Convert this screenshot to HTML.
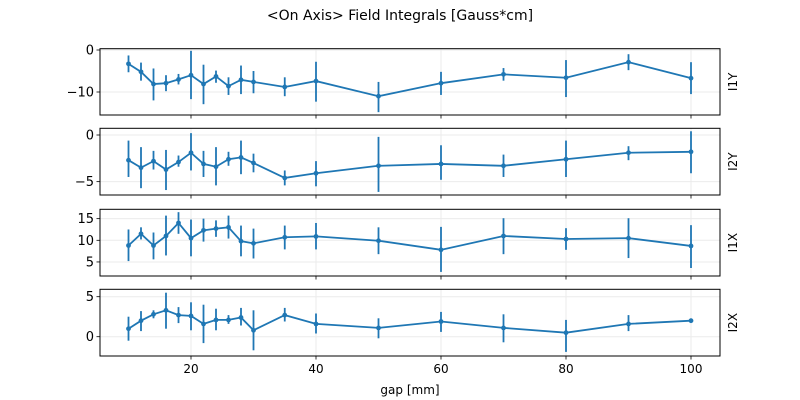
<!DOCTYPE html>
<html><head><meta charset="utf-8"><style>
body{margin:0;background:#fff;}
svg{display:block;font-family:"DejaVu Sans","Liberation Sans",sans-serif;}
</style></head><body>
<svg id="s" width="800" height="400" xmlns="http://www.w3.org/2000/svg">
<text x="400" y="20" font-size="14" text-anchor="middle">&lt;On Axis&gt; Field Integrals [Gauss*cm]</text>
<text x="410" y="394" font-size="12" text-anchor="middle">gap [mm]</text>
</svg>
<script>
const s=document.getElementById('s');
const NS='http://www.w3.org/2000/svg';
function el(t,a,txt){const e=document.createElementNS(NS,t);for(const k in a)e.setAttribute(k,a[k]);if(txt!==undefined)e.textContent=txt;s.appendChild(e);return e;}
const X=[10,12,14,16,18,20,22,24,26,28,30,35,40,50,60,70,80,90,100];
const xp=g=>191+(g-20)*6.25;
const L=100,R=720;
const panels=[
 {top:48.7,bot:115,y0:50,v0:0,k:4.2,ticks:[0,-10],lab:'I1Y',d:[
 [-3.3,-5.3,-1.3],[-5.2,-7.3,-3],[-8.1,-12,-4.4],[-7.9,-9.8,-6],[-7,-8.2,-5.7],[-6,-11.7,-0.2],[-8.1,-12.9,-3.5],[-6.3,-7.8,-4.9],[-8.6,-10.7,-6.5],[-7.1,-10.5,-3.7],[-7.6,-10.3,-5],[-8.8,-11,-6.5],[-7.4,-12.3,-2.8],[-11,-14.8,-7.6],[-7.9,-10.7,-5.2],[-5.8,-7.3,-4.3],[-6.6,-11.2,-2.4],[-2.9,-4.8,-1],[-6.7,-10.5,-2.9]]},
 {top:128.3,bot:195,y0:135,v0:0,k:9.33,ticks:[0,-5],lab:'I2Y',d:[
 [-2.7,-4.5,-0.6],[-3.5,-5.7,-1.3],[-2.8,-3.7,-1.7],[-3.7,-5.9,-1.6],[-2.9,-3.4,-2.2],[-1.9,-3.8,0.2],[-3.1,-4.5,-1.7],[-3.4,-5.4,-1.3],[-2.6,-3.3,-1.8],[-2.4,-4.2,-0.6],[-3,-4,-2],[-4.6,-5.4,-3.8],[-4.1,-5.5,-2.8],[-3.3,-6.1,-0.2],[-3.1,-4.8,-1.1],[-3.3,-4.5,-2.1],[-2.6,-4.5,-0.6],[-1.9,-2.7,-1.2],[-1.8,-4.1,0.4]]},
 {top:209.3,bot:276,y0:240.3,v0:10,k:4.33,ticks:[15,10,5],lab:'I1X',d:[
 [8.8,5.2,12.5],[11.5,10.2,13],[8.8,5.6,11.8],[11,6.5,15.7],[14,11.5,16.5],[10.5,6.3,14.8],[12.3,9.7,15],[12.7,10.8,14.6],[13,10.4,15.7],[9.8,6.3,13.4],[9.3,5.8,12.7],[10.7,7.9,13.4],[10.9,7.9,14],[9.9,6.8,13],[7.8,2.7,13.1],[11,6.8,15.1],[10.3,7.8,12.8],[10.5,5.9,15.1],[8.7,3.6,13.5]]},
 {top:289.3,bot:356,y0:336.7,v0:0,k:8,ticks:[5,0],lab:'I2X',d:[
 [1,-0.5,2.5],[2,0.7,3.2],[2.8,2.3,3.3],[3.3,1,5.5],[2.7,1.7,3.7],[2.6,0.8,4.3],[1.6,-0.8,4],[2.1,0.8,3.5],[2.1,1.6,2.7],[2.4,1.4,3.6],[0.8,-1.7,3.3],[2.7,1.9,3.6],[1.6,0.4,2.9],[1.1,-0.2,2.3],[1.9,0.6,3.1],[1.1,-0.7,2.8],[0.5,-1.9,2.1],[1.6,0.7,2.7],[2,1.8,2.2]]}
];
const C='#1f77b4';
panels.forEach((p,pi)=>{
 const yp=v=>p.y0-(v-p.v0)*p.k;
 [20,40,60,80,100].forEach(g=>el('line',{x1:xp(g),x2:xp(g),y1:p.top,y2:p.bot,stroke:'#ebebeb','stroke-width':1}));
 p.ticks.forEach(t=>{const y=yp(t);el('line',{x1:L,x2:R,y1:y,y2:y,stroke:'#ebebeb','stroke-width':1});
  el('line',{x1:L-3.5,x2:L,y1:y,y2:y,stroke:'#000','stroke-width':0.8});
  el('text',{x:L-6,y:y+4.5,'font-size':13,'text-anchor':'end'},t<0?'\u2212'+(-t):String(t));});
 p.d.forEach((d,i)=>el('line',{x1:xp(X[i]),x2:xp(X[i]),y1:yp(d[1]),y2:yp(d[2]),stroke:C,'stroke-width':1.8}));
 el('polyline',{points:p.d.map((d,i)=>xp(X[i])+','+yp(d[0])).join(' '),fill:'none',stroke:C,'stroke-width':1.8});
 p.d.forEach((d,i)=>el('circle',{cx:xp(X[i]),cy:yp(d[0]),r:2.4,fill:C}));
 el('rect',{x:L,y:p.top,width:R-L,height:p.bot-p.top,fill:'none',stroke:'#000','stroke-width':1});
 [20,40,60,80,100].forEach(g=>el('line',{x1:xp(g),x2:xp(g),y1:p.bot,y2:p.bot+3.5,stroke:'#000','stroke-width':0.8}));
 const cy=(p.top+p.bot)/2;
 el('text',{x:737,y:cy,'font-size':12,'text-anchor':'middle',transform:`rotate(-90 737 ${cy})`},p.lab);
 if(pi===3)[20,40,60,80,100].forEach(g=>el('text',{x:xp(g),y:p.bot+17,'font-size':12,'text-anchor':'middle'},String(g)));
});
</script>
</body></html>
